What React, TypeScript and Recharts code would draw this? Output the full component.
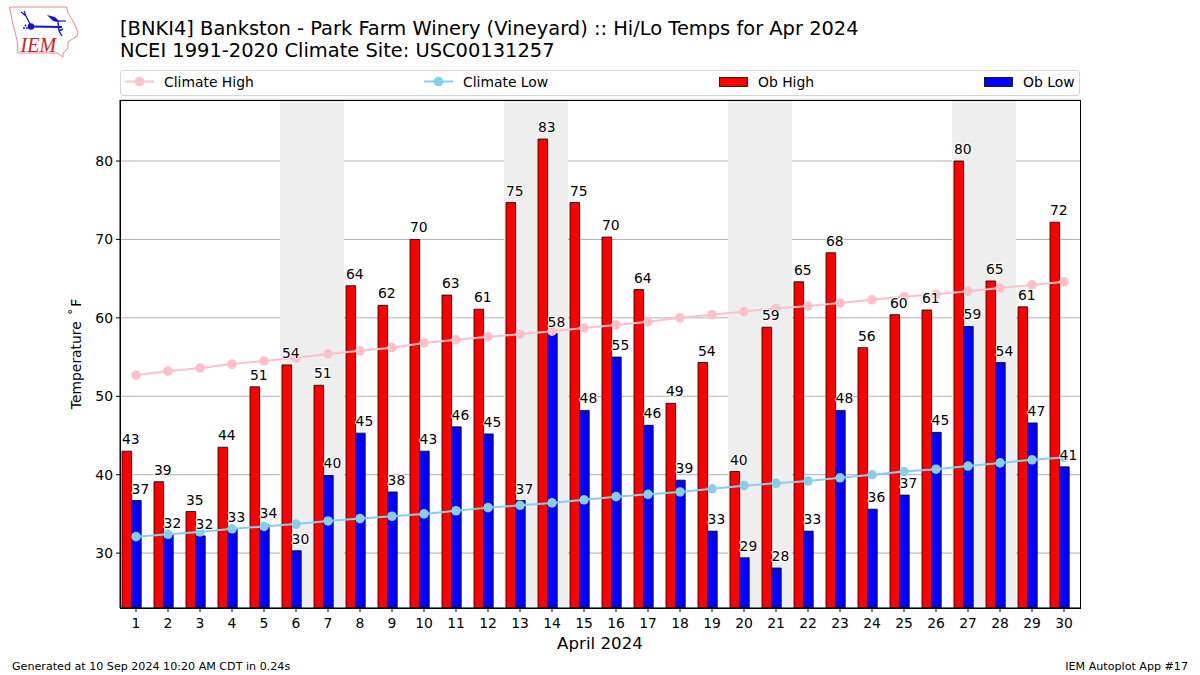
import React from "react";
import { ComposedChart, Bar, Line, XAxis, YAxis, CartesianGrid, ReferenceArea, LabelList, Rectangle } from "recharts";

const days = [1,2,3,4,5,6,7,8,9,10,11,12,13,14,15,16,17,18,19,20,21,22,23,24,25,26,27,28,29,30];
const obHigh = [43,39.1,35.3,43.5,51.2,54,51.4,64.1,61.6,70,62.9,61.1,74.7,82.8,74.7,70.3,63.6,49.1,54.3,40.4,58.8,64.6,68.3,56.2,60.4,61,80,64.7,61.4,72.2];
const obLow = [36.7,32.3,32.2,33.1,33.6,30.3,39.9,45.3,37.8,43,46.1,45.2,36.7,58,48.2,55,46.3,39.3,32.8,29.4,28.1,32.8,48.2,35.6,37.4,45.4,58.9,54.3,46.6,41];
const climateHigh = [52.7,53.2,53.6,54.1,54.5,54.9,55.4,55.8,56.2,56.8,57.2,57.6,57.9,58.3,58.7,59.1,59.5,60,60.4,60.8,61.2,61.5,61.9,62.3,62.7,63,63.4,63.8,64.2,64.6];
const climateLow = [32.1,32.4,32.7,33.1,33.4,33.7,34.1,34.4,34.7,35,35.4,35.8,36.1,36.4,36.8,37.2,37.5,37.8,38.2,38.6,38.9,39.2,39.6,40,40.4,40.7,41.1,41.5,41.9,42.2];
const weekends = [[6,7],[13,14],[20,21],[27,28]];
const yTicks = [30,40,50,60,70,80];

const data = days.map((day, i) => ({ day, obHigh: obHigh[i], obLow: obLow[i], climateHigh: climateHigh[i], climateLow: climateLow[i] }));

const FONT = "'DejaVu Sans', sans-serif";
const PINK = "#ffc0cb";
const SKY = "#87ceeb";
// The reference's bar pairs sit slightly left of their tick marks.
const BAR_SHIFT = 4;

const abs = (left: number, top: number, extra: React.CSSProperties = {}): React.CSSProperties => ({
  position: "absolute", left, top, whiteSpace: "nowrap", fontFamily: FONT, color: "#000", lineHeight: 1, ...extra,
});

const ShiftedBar = (props: any) => <Rectangle {...props} x={props.x - BAR_SHIFT} />;

const ValueLabel = (props: any) => {
  const { x, y, value } = props;
  return (
    <text x={x - BAR_SHIFT} y={y - 7} fontFamily={FONT} fontSize={13.9} fill="#000" stroke="#fff" strokeWidth={2}
      paintOrder="stroke" strokeLinejoin="round" textAnchor="start">
      {Math.round(value)}
    </text>
  );
};

const Logo = () => (
  <svg width={90} height={62} style={{ position: "absolute", left: 0, top: 0 }}>
    <path d="M9.5 7 L66.5 7 L68 13 L74 23 L78 32 L77 36 L68 42 L68 48 L63 53 L63 57 L57 53 L18 53 L17 40 L12 20 Z"
      fill="#fff" stroke="#e88a8a" strokeWidth={1} />
    <g stroke="#1414d2" fill="none">
      <path d="M31 26.5 L62 27" strokeWidth={2} />
      <path d="M31 26 L26 16 M26 16 L21 12 M26 16 L24 11" strokeWidth={1.2} />
      <path d="M55 21 L66 21" strokeWidth={1.2} />
      <path d="M58 22 L59 31 M59 31 L63 29 M59 31 L62 36" strokeWidth={1.4} />
    </g>
    <path d="M47 15 L55 17 L60 22 L53 21 Z" fill="#1414d2" />
    <circle cx={31} cy={26.5} r={3.2} fill="#1414d2" />
    <circle cx={24} cy={28} r={1} fill="#1414d2" />
    <circle cx={27} cy={28} r={1} fill="#1414d2" />
    <circle cx={25.5} cy={25.5} r={1} fill="#1414d2" />
    <text x={20.5} y={52} fontFamily="'Liberation Serif', serif" fontStyle="italic" fontSize={20} fill="#d22020">IEM</text>
  </svg>
);

const LegendBox = () => (
  <div style={{ position: "absolute", left: 120, top: 70, width: 960, height: 26, boxSizing: "border-box", border: "1px solid #d6d6d6", borderRadius: 3, background: "#fff" }}>
    <svg width={958} height={24} style={{ position: "absolute", left: 0, top: 0 }}>
      <line x1={4} x2={33} y1={10.5} y2={10.5} stroke={PINK} strokeWidth={2} />
      <circle cx={18.5} cy={10.5} r={4.8} fill={PINK} />
      <text x={43} y={15.5} fontFamily={FONT} fontSize={13.9}>Climate High</text>
      <line x1={303} x2={332} y1={10.5} y2={10.5} stroke={SKY} strokeWidth={2} />
      <circle cx={317.5} cy={10.5} r={4.8} fill={SKY} />
      <text x={342} y={15.5} fontFamily={FONT} fontSize={13.9}>Climate Low</text>
      <rect x={598.5} y={6.5} width={28} height={9} fill="#f00" stroke="#000" strokeWidth={0.8} />
      <text x={637} y={15.5} fontFamily={FONT} fontSize={13.9}>Ob High</text>
      <rect x={863.5} y={6.5} width={28} height={9} fill="#00f" stroke="#000" strokeWidth={0.8} />
      <text x={902} y={15.5} fontFamily={FONT} fontSize={13.9}>Ob Low</text>
    </svg>
  </div>
);

export default function App() {
  return (
    <div style={{ position: "fixed", left: 0, top: 0, width: 1200, height: 675, background: "#fff", overflow: "hidden" }}>
      <Logo />
      <div style={abs(120, 19, { fontSize: 19.44 })}>[BNKI4] Bankston - Park Farm Winery (Vineyard) :: Hi/Lo Temps for Apr 2024</div>
      <div style={abs(120, 41, { fontSize: 19.44 })}>NCEI 1991-2020 Climate Site: USC00131257</div>
      <LegendBox />
      <div style={{ position: "absolute", left: 0, top: 0 }}>
        <ComposedChart width={1200} height={675} data={data} margin={{ left: 0, right: 120, top: 100, bottom: 0 }} barGap={0} barSize={9.6}>
          <CartesianGrid horizontal vertical={false} stroke="#b0b0b0" strokeWidth={1} />
          {weekends.map(([a, b]) => (
            <ReferenceArea key={a} x1={a} x2={b} fill="#eeeeee" fillOpacity={1} stroke="none" ifOverflow="visible" />
          ))}
          <XAxis dataKey="day" type="category" interval={0} height={67} tickSize={4} tickMargin={6}
            tick={{ fontFamily: FONT, fontSize: 13.9, fill: "#000" }} axisLine={{ stroke: "#000" }} tickLine={{ stroke: "#000" }} padding={{ left: 0, right: 0 }} />
          <YAxis type="number" domain={[23, 87.78]} ticks={yTicks} width={120} allowDataOverflow tickSize={4} tickMargin={3}
            tick={{ fontFamily: FONT, fontSize: 13.9, fill: "#000" }} axisLine={{ stroke: "#000" }} tickLine={{ stroke: "#000" }} />
          <Bar dataKey="obHigh" fill="#ff0000" stroke="#000" strokeWidth={0.8} isAnimationActive={false} shape={ShiftedBar}>
            <LabelList dataKey="obHigh" content={ValueLabel} />
          </Bar>
          <Bar dataKey="obLow" fill="#0000ff" stroke="#000" strokeWidth={0.8} isAnimationActive={false} shape={ShiftedBar}>
            <LabelList dataKey="obLow" content={ValueLabel} />
          </Bar>
          <Line dataKey="climateHigh" stroke={PINK} strokeWidth={2} dot={{ r: 4.8, fill: PINK, stroke: PINK, strokeWidth: 0 }} isAnimationActive={false} />
          <Line dataKey="climateLow" stroke={SKY} strokeWidth={2} dot={{ r: 4.8, fill: SKY, stroke: SKY, strokeWidth: 0 }} isAnimationActive={false} />
        </ComposedChart>
      </div>
      <div style={{ position: "absolute", left: 120, top: 100, width: 960.5, height: 508.5, boxSizing: "border-box", border: "1px solid #000", pointerEvents: "none" }} />
      <div style={abs(600, 636, { fontSize: 16.67, transform: "translateX(-50%)" })}>April 2024</div>
      <div style={abs(76.5, 353.5, { fontSize: 13.9, transform: "translate(-50%,-50%) rotate(-90deg)" })}>Temperature <span style={{ margin: "0 1.5px" }}>˚</span>F</div>
      <div style={abs(12, 661, { fontSize: 11.11 })}>Generated at 10 Sep 2024 10:20 AM CDT in 0.24s</div>
      <div style={abs(1188, 661, { fontSize: 11.11, transform: "translateX(-100%)" })}>IEM Autoplot App #17</div>
    </div>
  );
}
